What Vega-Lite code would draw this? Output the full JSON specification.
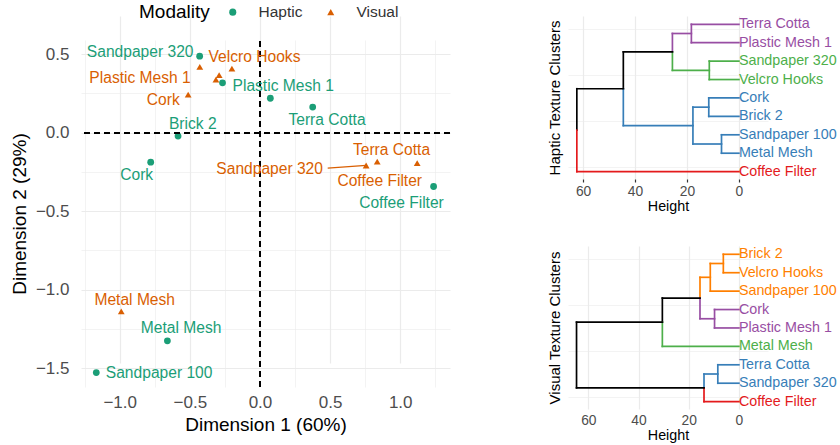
{
  "$schema": "https://vega.github.io/schema/vega-lite/v6.json",
  "padding": {"left": 10, "top": 4, "right": 0, "bottom": 0},
  "background": "white",
  "config": {
    "view": {"stroke": null},
    "font": "Liberation Sans",
    "axis": {"domain": false, "ticks": false, "gridColor": "#EBEBEB", "labelColor": "#4D4D4D", "titleColor": "#000000", "labelFont": "Liberation Sans", "titleFont": "Liberation Sans", "titleFontWeight": "normal", "labelOverlap": false},
    "legend": {"labelFont": "Liberation Sans", "titleFont": "Liberation Sans", "titleFontWeight": "normal"},
    "text": {"font": "Liberation Sans"}
  },
  "resolve": {"scale": {"color": "independent", "shape": "independent"}},
  "spacing": 96,
  "hconcat": [
    {
      "width": 369,
      "height": 371,
      "data": {"values": [
        {"texture": "Sandpaper 320", "Modality": "Haptic", "d1": -0.43, "d2": 0.487, "lx": -0.854, "ly": 0.514},
        {"texture": "Velcro Hooks", "Modality": "Haptic", "d1": -0.267, "d2": 0.317, "lx": null, "ly": null},
        {"texture": "Plastic Mesh 1", "Modality": "Haptic", "d1": 0.074, "d2": 0.219, "lx": 0.166, "ly": 0.295},
        {"texture": "Terra Cotta", "Modality": "Haptic", "d1": 0.376, "d2": 0.163, "lx": 0.478, "ly": 0.078},
        {"texture": "Brick 2", "Modality": "Haptic", "d1": -0.584, "d2": -0.022, "lx": -0.479, "ly": 0.057},
        {"texture": "Cork", "Modality": "Haptic", "d1": -0.779, "d2": -0.188, "lx": -0.879, "ly": -0.272},
        {"texture": "Coffee Filter", "Modality": "Haptic", "d1": 1.238, "d2": -0.343, "lx": 1.009, "ly": -0.449},
        {"texture": "Metal Mesh", "Modality": "Haptic", "d1": -0.66, "d2": -1.326, "lx": -0.562, "ly": -1.247},
        {"texture": "Sandpaper 100", "Modality": "Haptic", "d1": -1.167, "d2": -1.528, "lx": -0.719, "ly": -1.528},
        {"texture": "Plastic Mesh 1", "Modality": "Visual", "d1": -0.429, "d2": 0.419, "lx": -0.855, "ly": 0.351},
        {"texture": "Brick 2", "Modality": "Visual", "d1": -0.291, "d2": 0.366, "lx": null, "ly": null},
        {"texture": "Sandpaper 100", "Modality": "Visual", "d1": -0.314, "d2": 0.338, "lx": null, "ly": null},
        {"texture": "Velcro Hooks", "Modality": "Visual", "d1": -0.2, "d2": 0.408, "lx": -0.039, "ly": 0.483},
        {"texture": "Cork", "Modality": "Visual", "d1": -0.512, "d2": 0.242, "lx": -0.689, "ly": 0.206},
        {"texture": "Sandpaper 320", "Modality": "Visual", "d1": 0.757, "d2": -0.209, "lx": 0.069, "ly": -0.234, "sx": 0.483, "sy": -0.226},
        {"texture": "Terra Cotta", "Modality": "Visual", "d1": 0.836, "d2": -0.185, "lx": 0.938, "ly": -0.113},
        {"texture": "Coffee Filter", "Modality": "Visual", "d1": 1.121, "d2": -0.194, "lx": 0.854, "ly": -0.311},
        {"texture": "Metal Mesh", "Modality": "Visual", "d1": -0.989, "d2": -1.138, "lx": -0.893, "ly": -1.064}
      ]},
      "resolve": {"scale": {"x": "independent"}, "axis": {"x": "independent"}},
      "layer": [
        {
          "mark": {"type": "rule", "strokeDash": [6, 4], "color": "#000000", "strokeWidth": 1.5},
          "encoding": {
            "x": {"datum": 0, "type": "quantitative", "scale": {"domain": [-1.276, 1.355], "nice": false, "zero": false},
              "axis": {"orient": "top", "values": [-1.25, -0.75, -0.25, 0.25, 0.75, 1.25], "labels": false, "title": null, "grid": true, "gridWidth": 0.6, "gridColor": "#EBEBEB", "ticks": false, "domain": false}},
            "y": {"datum": -1.62, "type": "quantitative"},
            "y2": {"datum": 0.59}
          }
        },
        {
          "layer": [
            {
              "mark": {"type": "point", "filled": true, "size": 46, "opacity": 1},
              "encoding": {
                "x": {"field": "d1", "type": "quantitative", "scale": {"domain": [-1.276, 1.355], "nice": false, "zero": false},
                  "axis": {"title": "Dimension 1 (60%)", "values": [-1, -0.5, 0, 0.5, 1], "format": ".1f", "labelOverlap": false,
                    "grid": true, "gridColor": "#EBEBEB", "gridWidth": 1.2,
                    "labelFontSize": 17, "titleFontSize": 19, "labelPadding": 7, "titlePadding": 5, "labelFlush": false}},
                "y": {"field": "d2", "type": "quantitative", "scale": {"domain": [-1.62, 0.59], "range": [371, 24], "nice": false, "zero": false},
                  "axis": {"title": "Dimension 2 (29%)", "values": [-1.5, -1.25, -1, -0.75, -0.5, -0.25, 0, 0.25, 0.5],
                    "format": ".1f", "labelExpr": "datum.value % 0.5 == 0 ? datum.label : ''", "labelOverlap": false,
                    "grid": true, "gridColor": "#EBEBEB",
                    "gridWidth": {"condition": {"test": "datum.value % 0.5 != 0", "value": 0.6}, "value": 1.2},
                    "labelFontSize": 17, "titleFontSize": 19, "labelPadding": 12, "titlePadding": 6, "labelFlush": false}},
                "color": {"field": "Modality", "type": "nominal", "scale": {"domain": ["Haptic", "Visual"], "range": ["#1B9E77", "#D95F02"]},
                  "legend": {"orient": "none", "legendX": 58, "legendY": -12, "direction": "horizontal", "titleOrient": "left", "title": "Modality",
                    "titleFontSize": 19, "titleColor": "#000000", "labelFontSize": 15.5, "labelColor": "#333333", "symbolSize": 50,
                    "labelOffset": 18, "columnPadding": 20, "titlePadding": 15, "symbolStrokeWidth": 0}},
                "shape": {"field": "Modality", "type": "nominal", "scale": {"domain": ["Haptic", "Visual"], "range": ["circle", "triangle-up"]}}
              }
            },
            {
              "mark": {"type": "rule", "strokeDash": [6, 4], "color": "#000000", "strokeWidth": 1.5},
              "encoding": {"y": {"datum": 0, "type": "quantitative"}}
            },
            {
              "transform": [{"filter": "isValid(datum.sx)"}],
              "mark": {"type": "rule", "strokeWidth": 1.2},
              "encoding": {
                "x": {"field": "sx", "type": "quantitative"},
                "y": {"field": "sy", "type": "quantitative"},
                "x2": {"field": "d1"},
                "y2": {"field": "d2"},
                "color": {"field": "Modality", "type": "nominal"}
              }
            },
            {
              "transform": [{"filter": "isValid(datum.lx)"}],
              "mark": {"type": "text", "fontSize": 15.6, "align": "center", "baseline": "middle"},
              "encoding": {
                "x": {"field": "lx", "type": "quantitative"},
                "y": {"field": "ly", "type": "quantitative"},
                "text": {"field": "texture"},
                "color": {"field": "Modality", "type": "nominal"}
              }
            }
          ]
        }
      ]
    },
    {
      "spacing": 31,
      "resolve": {"scale": {"color": "shared"}},
      "vconcat": [
        {
          "width": 200,
          "height": 163,
          "layer": [
            {
              "data": {"values": [
                {"h1": 18.3, "h2": 0, "p1": 9, "p2": 9, "grp": "purple"},
                {"h1": 18.3, "h2": 0, "p1": 8, "p2": 8, "grp": "purple"},
                {"h1": 18.3, "h2": 18.3, "p1": 8, "p2": 9, "grp": "purple"},
                {"h1": 11.4, "h2": 0, "p1": 7, "p2": 7, "grp": "green"},
                {"h1": 11.4, "h2": 0, "p1": 6, "p2": 6, "grp": "green"},
                {"h1": 11.4, "h2": 11.4, "p1": 6, "p2": 7, "grp": "green"},
                {"h1": 25.6, "h2": 18.3, "p1": 8.5, "p2": 8.5, "grp": "purple"},
                {"h1": 25.6, "h2": 11.4, "p1": 6.5, "p2": 6.5, "grp": "green"},
                {"h1": 25.6, "h2": 25.6, "p1": 7.5, "p2": 8.5, "grp": "purple"},
                {"h1": 25.6, "h2": 25.6, "p1": 6.5, "p2": 7.5, "grp": "green"},
                {"h1": 11.6, "h2": 0, "p1": 5, "p2": 5, "grp": "blue"},
                {"h1": 11.6, "h2": 0, "p1": 4, "p2": 4, "grp": "blue"},
                {"h1": 11.6, "h2": 11.6, "p1": 4, "p2": 5, "grp": "blue"},
                {"h1": 6.7, "h2": 0, "p1": 3, "p2": 3, "grp": "blue"},
                {"h1": 6.7, "h2": 0, "p1": 2, "p2": 2, "grp": "blue"},
                {"h1": 6.7, "h2": 6.7, "p1": 2, "p2": 3, "grp": "blue"},
                {"h1": 17.7, "h2": 11.6, "p1": 4.5, "p2": 4.5, "grp": "blue"},
                {"h1": 17.7, "h2": 6.7, "p1": 2.5, "p2": 2.5, "grp": "blue"},
                {"h1": 17.7, "h2": 17.7, "p1": 2.5, "p2": 4.5, "grp": "blue"},
                {"h1": 44.5, "h2": 25.6, "p1": 7.5, "p2": 7.5, "grp": "black"},
                {"h1": 44.5, "h2": 17.7, "p1": 3.5, "p2": 3.5, "grp": "blue"},
                {"h1": 44.5, "h2": 44.5, "p1": 5.5, "p2": 7.5, "grp": "black"},
                {"h1": 44.5, "h2": 44.5, "p1": 3.5, "p2": 5.5, "grp": "blue"},
                {"h1": 62.4, "h2": 44.5, "p1": 5.5, "p2": 5.5, "grp": "black"},
                {"h1": 62.4, "h2": 0, "p1": 1, "p2": 1, "grp": "red"},
                {"h1": 62.4, "h2": 62.4, "p1": 3.25, "p2": 5.5, "grp": "black"},
                {"h1": 62.4, "h2": 62.4, "p1": 1, "p2": 3.25, "grp": "red"}
              ]},
              "mark": {"type": "rule", "strokeWidth": 1.7, "strokeCap": "square"},
              "encoding": {
                "x": {"field": "h1", "type": "quantitative", "scale": {"domain": [65.8, -11.2], "nice": false, "zero": false},
                  "axis": {"title": "Height", "values": [60, 50, 40, 30, 20, 10, 0, -10], "labelExpr": "datum.value % 20 == 0 && datum.value >= 0 ? datum.label : ''",
                    "ticks": true, "tickColor": {"condition": {"test": "datum.value % 20 == 0 && datum.value >= 0", "value": "#333333"}, "value": "transparent"}, "tickSize": 3, "tickWidth": 1.2,
                    "gridWidth": {"condition": {"test": "datum.value % 20 != 0", "value": 0.6}, "value": 1.2},
                    "labelFontSize": 13.8, "titleFontSize": 14.3, "labelPadding": 2, "titlePadding": 2}},
                "x2": {"field": "h2"},
                "y": {"field": "p1", "type": "quantitative", "scale": {"domain": [0.6, 9.45], "nice": false, "zero": false},
                  "axis": {"title": "Haptic Texture Clusters", "values": [1.25, 2.5, 3.75, 5, 6.25, 7.5, 8.75], "labels": false,
                    "gridWidth": {"condition": {"test": "datum.value % 2.5 != 0", "value": 0.6}, "value": 1.2},
                    "titleFontSize": 15, "titlePadding": 6}},
                "y2": {"field": "p2"},
                "color": {"field": "grp", "type": "nominal", "legend": null,
                  "scale": {"domain": ["black", "purple", "green", "blue", "red", "orange"], "range": ["#000000", "#984EA3", "#4DAF4A", "#377EB8", "#E41A1C", "#FF7F00"]}}
              }
            },
            {
              "data": {"values": [
                {"leaf": "Terra Cotta", "pos": 9, "grp": "purple"},
                {"leaf": "Plastic Mesh 1", "pos": 8, "grp": "purple"},
                {"leaf": "Sandpaper 320", "pos": 7, "grp": "green"},
                {"leaf": "Velcro Hooks", "pos": 6, "grp": "green"},
                {"leaf": "Cork", "pos": 5, "grp": "blue"},
                {"leaf": "Brick 2", "pos": 4, "grp": "blue"},
                {"leaf": "Sandpaper 100", "pos": 3, "grp": "blue"},
                {"leaf": "Metal Mesh", "pos": 2, "grp": "blue"},
                {"leaf": "Coffee Filter", "pos": 1, "grp": "red"}
              ]},
              "mark": {"type": "text", "fontSize": 14.3, "align": "left", "baseline": "middle", "dx": 0},
              "encoding": {
                "x": {"datum": 0, "type": "quantitative"},
                "y": {"field": "pos", "type": "quantitative"},
                "text": {"field": "leaf"},
                "color": {"field": "grp", "type": "nominal", "legend": null}
              }
            }
          ]
        },
        {
          "width": 200,
          "height": 163,
          "layer": [
            {
              "data": {"values": [
                {"h1": 6.2, "h2": 0, "p1": 9, "p2": 9, "grp": "orange"},
                {"h1": 6.2, "h2": 0, "p1": 8, "p2": 8, "grp": "orange"},
                {"h1": 6.2, "h2": 6.2, "p1": 8, "p2": 9, "grp": "orange"},
                {"h1": 11.4, "h2": 0, "p1": 7, "p2": 7, "grp": "orange"},
                {"h1": 11.4, "h2": 6.2, "p1": 8.5, "p2": 8.5, "grp": "orange"},
                {"h1": 11.4, "h2": 11.4, "p1": 7, "p2": 8.5, "grp": "orange"},
                {"h1": 9.7, "h2": 0, "p1": 6, "p2": 6, "grp": "purple"},
                {"h1": 9.7, "h2": 0, "p1": 5, "p2": 5, "grp": "purple"},
                {"h1": 9.7, "h2": 9.7, "p1": 5, "p2": 6, "grp": "purple"},
                {"h1": 15.5, "h2": 11.4, "p1": 7.75, "p2": 7.75, "grp": "orange"},
                {"h1": 15.5, "h2": 9.7, "p1": 5.5, "p2": 5.5, "grp": "purple"},
                {"h1": 15.5, "h2": 15.5, "p1": 6.625, "p2": 7.75, "grp": "orange"},
                {"h1": 15.5, "h2": 15.5, "p1": 5.5, "p2": 6.625, "grp": "purple"},
                {"h1": 30.5, "h2": 0, "p1": 4, "p2": 4, "grp": "green"},
                {"h1": 30.5, "h2": 15.5, "p1": 6.625, "p2": 6.625, "grp": "black"},
                {"h1": 30.5, "h2": 30.5, "p1": 5.3125, "p2": 6.625, "grp": "black"},
                {"h1": 30.5, "h2": 30.5, "p1": 4, "p2": 5.3125, "grp": "green"},
                {"h1": 8.4, "h2": 0, "p1": 3, "p2": 3, "grp": "blue"},
                {"h1": 8.4, "h2": 0, "p1": 2, "p2": 2, "grp": "blue"},
                {"h1": 8.4, "h2": 8.4, "p1": 2, "p2": 3, "grp": "blue"},
                {"h1": 13.9, "h2": 8.4, "p1": 2.5, "p2": 2.5, "grp": "blue"},
                {"h1": 13.9, "h2": 0, "p1": 1, "p2": 1, "grp": "red"},
                {"h1": 13.9, "h2": 13.9, "p1": 1.75, "p2": 2.5, "grp": "blue"},
                {"h1": 13.9, "h2": 13.9, "p1": 1, "p2": 1.75, "grp": "red"},
                {"h1": 64.7, "h2": 30.5, "p1": 5.3125, "p2": 5.3125, "grp": "black"},
                {"h1": 64.7, "h2": 13.9, "p1": 1.75, "p2": 1.75, "grp": "black"},
                {"h1": 64.7, "h2": 64.7, "p1": 1.75, "p2": 5.3125, "grp": "black"}
              ]},
              "mark": {"type": "rule", "strokeWidth": 1.7, "strokeCap": "square"},
              "encoding": {
                "x": {"field": "h1", "type": "quantitative", "scale": {"domain": [68.1, -11.6], "nice": false, "zero": false},
                  "axis": {"title": "Height", "values": [60, 50, 40, 30, 20, 10, 0, -10], "labelExpr": "datum.value % 20 == 0 && datum.value >= 0 ? datum.label : ''",
                    "ticks": false,
                    "gridWidth": {"condition": {"test": "datum.value % 20 != 0", "value": 0.6}, "value": 1.2},
                    "labelFontSize": 13.8, "titleFontSize": 14.3, "labelPadding": 4, "titlePadding": 2}},
                "x2": {"field": "h2"},
                "y": {"field": "p1", "type": "quantitative", "scale": {"domain": [0.6, 9.45], "nice": false, "zero": false},
                  "axis": {"title": "Visual Texture Clusters", "values": [1.25, 2.5, 3.75, 5, 6.25, 7.5, 8.75], "labels": false,
                    "gridWidth": {"condition": {"test": "datum.value % 2.5 != 0", "value": 0.6}, "value": 1.2},
                    "titleFontSize": 15, "titlePadding": 6}},
                "y2": {"field": "p2"},
                "color": {"field": "grp", "type": "nominal", "legend": null,
                  "scale": {"domain": ["black", "purple", "green", "blue", "red", "orange"], "range": ["#000000", "#984EA3", "#4DAF4A", "#377EB8", "#E41A1C", "#FF7F00"]}}
              }
            },
            {
              "data": {"values": [
                {"leaf": "Brick 2", "pos": 9, "grp": "orange"},
                {"leaf": "Velcro Hooks", "pos": 8, "grp": "orange"},
                {"leaf": "Sandpaper 100", "pos": 7, "grp": "orange"},
                {"leaf": "Cork", "pos": 6, "grp": "purple"},
                {"leaf": "Plastic Mesh 1", "pos": 5, "grp": "purple"},
                {"leaf": "Metal Mesh", "pos": 4, "grp": "green"},
                {"leaf": "Terra Cotta", "pos": 3, "grp": "blue"},
                {"leaf": "Sandpaper 320", "pos": 2, "grp": "blue"},
                {"leaf": "Coffee Filter", "pos": 1, "grp": "red"}
              ]},
              "mark": {"type": "text", "fontSize": 14.3, "align": "left", "baseline": "middle", "dx": 0},
              "encoding": {
                "x": {"datum": 0, "type": "quantitative"},
                "y": {"field": "pos", "type": "quantitative"},
                "text": {"field": "leaf"},
                "color": {"field": "grp", "type": "nominal", "legend": null}
              }
            }
          ]
        }
      ]
    }
  ]
}
